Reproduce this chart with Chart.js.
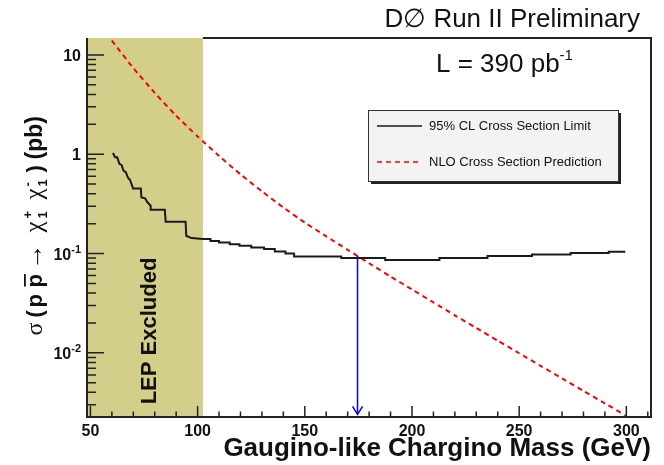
<!DOCTYPE html>
<html>
<head>
<meta charset="utf-8">
<script src="https://cdn.jsdelivr.net/npm/chart.js@4.4.0/dist/chart.umd.min.js"></script>
<style>
  html, body { margin: 0; padding: 0; background: #fff; }
  #wrap { width: 664px; height: 465px; }
</style>
</head>
<body>
<div id="wrap"><canvas id="limitChart" width="664" height="465"></canvas></div>
<script>
// NLO prediction (GeV, pb)
const nloMass = [60, 70, 80, 90, 100, 110, 120, 130, 140, 150, 160, 170, 180, 190, 200, 210, 220, 230, 240, 250, 260, 270, 280, 290, 300];
const nloXsec = [13.9, 7.38, 4.15, 2.44, 1.51, 0.962, 0.628, 0.423, 0.291, 0.205, 0.149, 0.109, 0.0798, 0.0587, 0.0435, 0.0322, 0.0239, 0.0178, 0.01327, 0.00991, 0.0074, 0.00553, 0.00414, 0.0031, 0.00232];

// 95% CL limit, stepped
const limitMass = [60.5, 61.5, 62.5, 63.5, 64.5, 65.5, 66.5, 67.5, 68.5, 69.9,
  73.5, 73.8, 75.5, 76.5, 78.1, 78.1, 84.7, 85.1, 94.4, 94.7,
  97.1, 102.5, 106, 106, 110, 110, 115, 115, 119.5, 119.5,
  125, 125, 131, 131, 136, 136, 141, 141, 145, 145,
  167, 167, 187.5, 187.5, 212.8, 212.8, 235.2, 235.2, 256, 256,
  274, 274, 291.8, 291.8, 299.5];
const limitXsec = [1.03, 0.93, 0.93, 0.80, 0.78, 0.68, 0.66, 0.58, 0.55, 0.453,
  0.453, 0.367, 0.36, 0.33, 0.303, 0.276, 0.276, 0.209, 0.209, 0.151,
  0.143, 0.14, 0.14, 0.134, 0.134, 0.129, 0.129, 0.124, 0.124, 0.12,
  0.12, 0.115, 0.115, 0.111, 0.111, 0.105, 0.105, 0.1, 0.1, 0.0935,
  0.0935, 0.0901, 0.0901, 0.0861, 0.0861, 0.0901, 0.0901, 0.0944, 0.0944, 0.098,
  0.098, 0.1012, 0.1012, 0.1043, 0.1043];

const lepRange = [48.4, 102.5];
const arrowMass = 174.6;
const arrowXsec = [0.095, 0.0024];

const xRange = [48.4, 311.5];
const yRange = [0.00226, 14.8];
const xMajor = [50, 100, 150, 200, 250, 300];
const xMinorStep = 10;
const yMajor = [0.01, 0.1, 1, 10];
const yLabels = [['10', '-2'], ['10', '-1'], ['1', ''], ['10', '']];

const SANS = '"Liberation Sans", Arial, Helvetica, sans-serif';
const SERIF = '"Liberation Serif", "DejaVu Serif", serif';
const bandColor = 'rgb(211, 207, 138)';

function pts(xs, ys) {
  return xs.map((x, i) => ({ x: x, y: ys[i] }));
}

// text pieces drawn left to right; w forces the advance
function richWidth(ctx, parts) {
  let w = 0;
  parts.forEach(p => {
    if (p.w) { w += p.w; return; }
    ctx.font = p.font;
    w += ctx.measureText(p.t).width + (p.gap || 0);
  });
  return w;
}
function richDraw(ctx, parts, x, y) {
  parts.forEach(p => {
    ctx.font = p.font;
    ctx.fillText(p.t, x, y + (p.dy || 0));
    const tw = ctx.measureText(p.t).width;
    if (p.over) ctx.fillRect(x + 1, y + p.over, tw - 1, 1.8);
    if (p.sub) {
      ctx.font = p.sub.font;
      ctx.fillText(p.sub.t, x, y + p.sub.dy);
    }
    x += p.w ? p.w : tw + (p.gap || 0);
  });
}

const rootStyle = {
  id: 'rootStyle',
  beforeDatasetsDraw(chart) {
    const ctx = chart.ctx, a = chart.chartArea, sx = chart.scales.x;
    ctx.save();
    const x0 = sx.getPixelForValue(lepRange[0]), x1 = sx.getPixelForValue(lepRange[1]);
    ctx.fillStyle = bandColor;
    ctx.fillRect(x0, a.top, x1 - x0, a.bottom - a.top);
    ctx.restore();
  },
  afterDatasetsDraw(chart) {
    const ctx = chart.ctx, a = chart.chartArea;
    const sx = chart.scales.x, sy = chart.scales.y;
    ctx.save();

    // frame
    ctx.strokeStyle = '#222';
    ctx.lineWidth = 2;
    const bandRight = sx.getPixelForValue(lepRange[1]);
    ctx.beginPath();
    ctx.moveTo(a.left, a.top); ctx.lineTo(a.left, a.bottom); ctx.lineTo(a.right, a.bottom);
    ctx.lineTo(a.right, a.top); ctx.lineTo(bandRight, a.top);
    ctx.stroke();

    // ticks
    ctx.lineWidth = 1.5;
    ctx.beginPath();
    for (let m = xMajor[0]; m <= xRange[1]; m += xMinorStep) {
      const px = sx.getPixelForValue(m);
      const len = xMajor.includes(m) ? 11 : 5.5;
      ctx.moveTo(px, a.bottom); ctx.lineTo(px, a.bottom - len);
    }
    for (let e = -3; e <= 1; e++) {
      for (let k = 1; k <= 9; k++) {
        const v = k * Math.pow(10, e);
        if (v < yRange[0] || v > yRange[1]) continue;
        const py = sy.getPixelForValue(v);
        const len = k === 1 ? 17 : 9;
        ctx.moveTo(a.left, py); ctx.lineTo(a.left + len, py);
      }
    }
    ctx.stroke();

    // tick labels
    ctx.fillStyle = '#111';
    ctx.textBaseline = 'alphabetic';
    ctx.textAlign = 'center';
    ctx.font = 'bold 16px ' + SANS;
    xMajor.forEach(m => ctx.fillText(String(m), sx.getPixelForValue(m), a.bottom + 19));
    ctx.textAlign = 'left';
    yMajor.forEach((v, i) => {
      const py = sy.getPixelForValue(v);
      const parts = [{ t: yLabels[i][0], font: 'bold 16px ' + SANS }];
      if (yLabels[i][1]) parts.push({ t: yLabels[i][1], font: 'bold 11px ' + SANS, dy: -7 });
      const w = richWidth(ctx, parts);
      richDraw(ctx, parts, a.left - 6 - w, py + 6);
    });

    // exclusion arrow head
    const ax = sx.getPixelForValue(arrowMass), ay = sy.getPixelForValue(arrowXsec[1]);
    ctx.strokeStyle = 'rgb(0, 0, 255)';
    ctx.lineWidth = 1.5;
    ctx.beginPath();
    ctx.moveTo(ax - 5, ay - 8); ctx.lineTo(ax, ay); ctx.lineTo(ax + 5, ay - 8);
    ctx.stroke();

    // LEP text
    ctx.fillStyle = '#111';
    ctx.save();
    ctx.translate(149, 331);
    ctx.rotate(-Math.PI / 2);
    ctx.textAlign = 'center';
    ctx.textBaseline = 'middle';
    ctx.font = 'bold 22px ' + SANS;
    ctx.fillText('LEP Excluded', 0, 1);
    ctx.restore();

    // legend box
    const lx = 368, ly = 110, lw = 250, lh = 71;
    ctx.fillStyle = '#222';
    ctx.fillRect(lx + 3, ly + 3, lw, lh);
    ctx.fillStyle = '#f3f3f3';
    ctx.fillRect(lx, ly, lw, lh);
    ctx.strokeStyle = '#333';
    ctx.lineWidth = 1;
    ctx.strokeRect(lx + 0.5, ly + 0.5, lw, lh);
    const ds = chart.data.datasets;
    [0, 1].forEach(i => {
      const yy = ly + 16 + i * 36;
      ctx.strokeStyle = ds[i].borderColor;
      ctx.lineWidth = 1.5;
      ctx.setLineDash(ds[i].borderDash || []);
      ctx.beginPath(); ctx.moveTo(lx + 9, yy); ctx.lineTo(lx + 54, yy); ctx.stroke();
      ctx.setLineDash([]);
      ctx.fillStyle = '#111';
      ctx.font = '13px ' + SANS;
      ctx.textAlign = 'left';
      ctx.textBaseline = 'middle';
      ctx.fillText(ds[i].label, lx + 61, yy);
    });

    // titles
    ctx.textBaseline = 'alphabetic';
    ctx.fillStyle = '#111';
    ctx.font = '26px ' + SANS;
    ctx.textAlign = 'right';
    ctx.fillText('D\u2205 Run II Preliminary', 640, 27);

    ctx.textAlign = 'left';
    const lum = [{ t: 'L = 390 pb', font: '26px ' + SANS }, { t: '-1', font: '15px ' + SANS, dy: -12 }];
    richDraw(ctx, lum, 436, 72);

    ctx.font = 'bold 26px ' + SANS;
    ctx.textAlign = 'right';
    ctx.fillText('Gaugino-like Chargino Mass (GeV)', 651, 456);

    // y title
    ctx.textAlign = 'left';
    const B = 'bold 22px ' + SANS, S = 'bold 13px ' + SANS, X = '25px ' + SERIF;
    const ytitle = [
      { t: '\u03c3', font: '24px ' + SERIF, w: 18 },
      { t: '(', font: B, w: 10 },
      { t: 'p', font: B, w: 20 },
      { t: 'p', font: B, over: -18, w: 18 },
      { t: '\u2192', font: '26px ' + SANS, w: 37 },
      { t: '\u03c7', font: X, w: 14 },
      { t: '+', font: S, dy: -10, sub: { t: '1', font: S, dy: 5 }, w: 19 },
      { t: '\u03c7', font: X, w: 13 },
      { t: '-', font: S, dy: -10, sub: { t: '1', font: S, dy: 5 }, w: 14 },
      { t: ')', font: B, w: 13 },
      { t: '(pb)', font: 'bold 23px ' + SANS, w: 43 }
    ];
    const tw = richWidth(ctx, ytitle);
    ctx.save();
    ctx.translate(42, 226);
    ctx.rotate(-Math.PI / 2);
    richDraw(ctx, ytitle, -tw / 2, 0);
    ctx.restore();

    ctx.restore();
  }
};

new Chart(document.getElementById('limitChart'), {
  type: 'line',
  data: {
    datasets: [{
      label: '95% CL Cross Section Limit',
      data: pts(limitMass, limitXsec),
      borderColor: '#1a1a1a',
      borderWidth: 2,
      pointRadius: 0,
      tension: 0
    }, {
      label: 'NLO Cross Section Prediction',
      data: pts(nloMass, nloXsec),
      borderColor: 'rgb(255, 0, 0)',
      borderWidth: 2,
      borderDash: [5, 4],
      pointRadius: 0,
      tension: 0.2
    }, {
      label: 'excluded mass',
      data: pts([arrowMass, arrowMass], arrowXsec),
      borderColor: 'rgb(0, 0, 255)',
      borderWidth: 1.5,
      pointRadius: 0
    }]
  },
  options: {
    responsive: false,
    animation: false,
    devicePixelRatio: 1,
    layout: { padding: { left: 87, top: 38, right: 13, bottom: 48 } },
    plugins: { legend: { display: false }, tooltip: { enabled: false } },
    scales: {
      x: { type: 'linear', min: xRange[0], max: xRange[1], display: false },
      y: { type: 'logarithmic', min: yRange[0], max: yRange[1], display: false }
    }
  },
  plugins: [rootStyle]
});
</script>
</body>
</html>
